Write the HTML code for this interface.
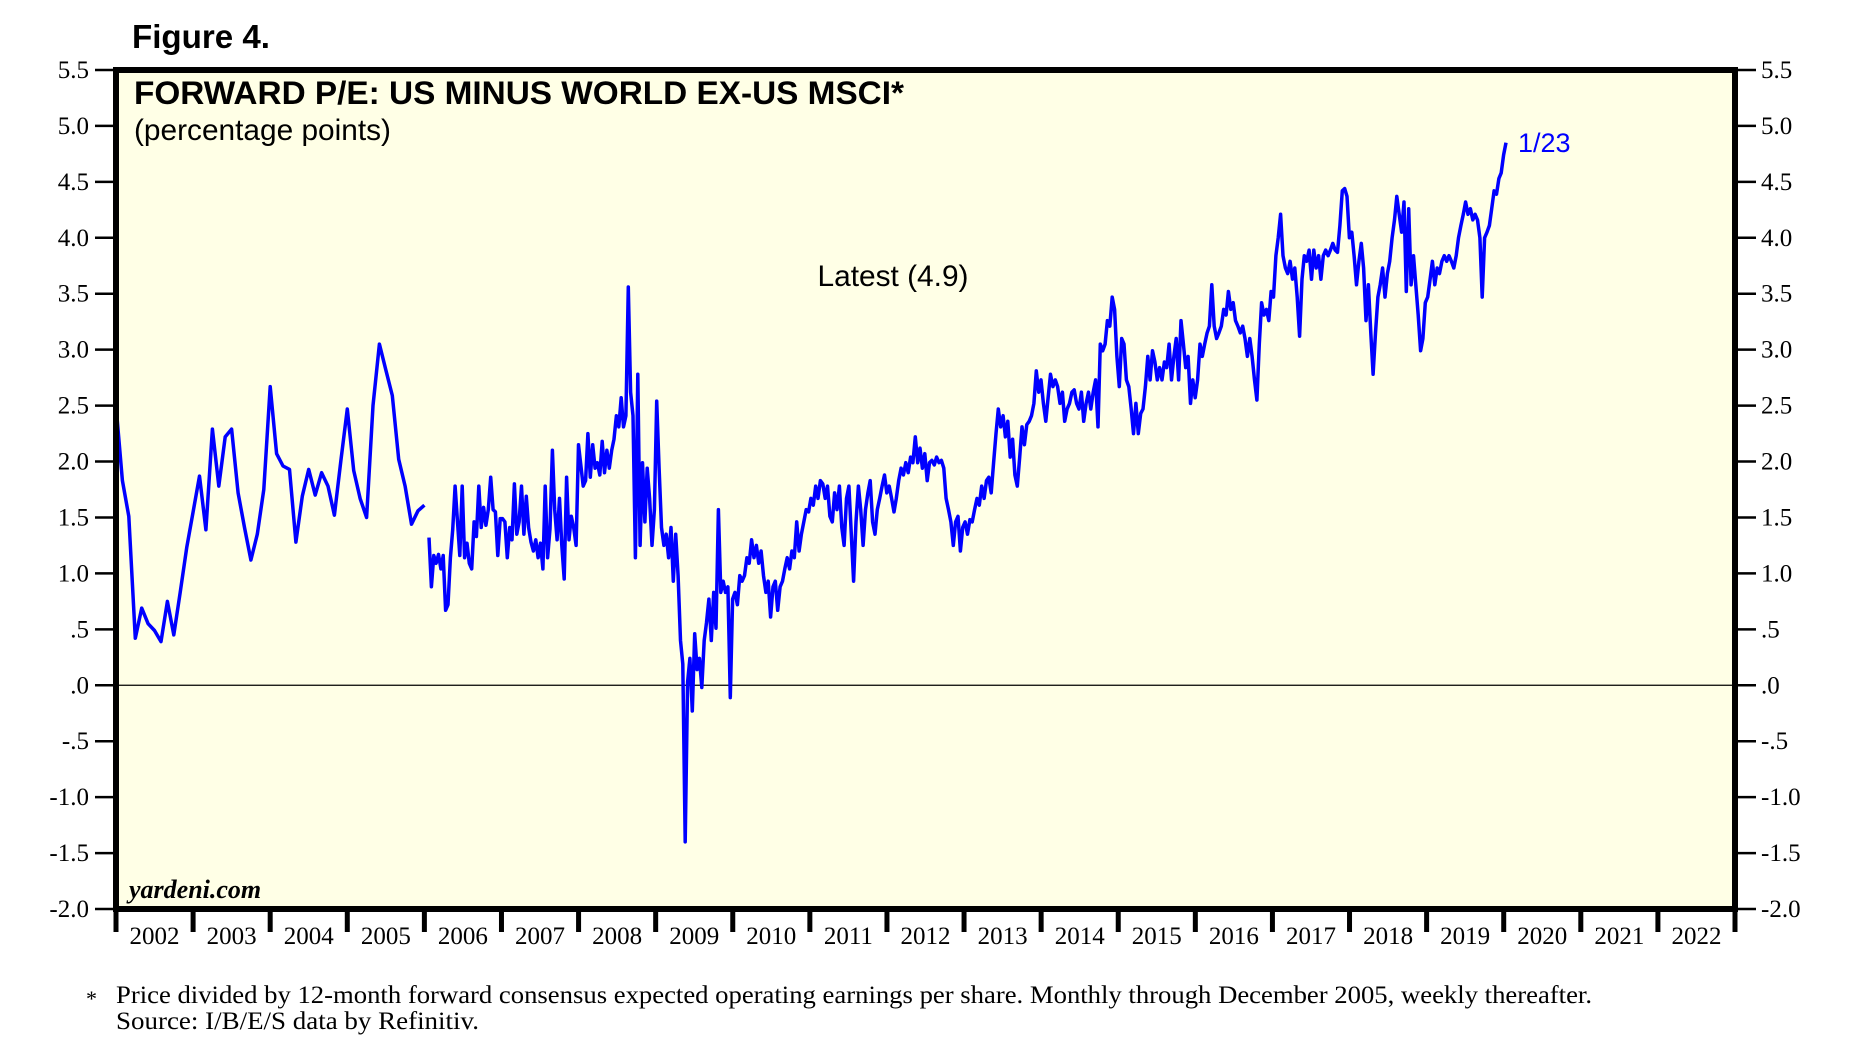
<!DOCTYPE html>
<html><head><meta charset="utf-8"><style>
html,body{margin:0;padding:0;background:#fff;}
svg{display:block;}
.tm{font-family:"Liberation Serif",serif;}
.ar{font-family:"Liberation Sans",sans-serif;}
</style></head><body>
<svg id="chart" width="1859" height="1058" viewBox="0 0 1859 1058" xmlns="http://www.w3.org/2000/svg">
<text x="132" y="48" class="ar" font-size="33" font-weight="bold" textLength="138" lengthAdjust="spacingAndGlyphs">Figure 4.</text>
<rect x="116" y="70" width="1619" height="839" fill="#ffffe6"/>
<g id="grid"></g>
<g id="series"></g>
<rect x="116" y="70" width="1619" height="839" fill="none" stroke="#000" stroke-width="6"/>
<g id="axes"></g>
<text x="134" y="104" class="ar" font-size="32" font-weight="bold" textLength="770" lengthAdjust="spacingAndGlyphs">FORWARD P/E: US MINUS WORLD EX-US MSCI*</text>
<text x="134" y="140" class="ar" font-size="30" textLength="257" lengthAdjust="spacingAndGlyphs">(percentage points)</text>
<text x="893" y="286" class="ar" font-size="30" text-anchor="middle" textLength="151" lengthAdjust="spacingAndGlyphs">Latest (4.9)</text>
<text x="1518" y="152" class="ar" font-size="27" fill="#0000ff">1/23</text>
<text x="129" y="898" class="tm" font-size="26" font-weight="bold" font-style="italic">yardeni.com</text>
<text x="86" y="1006" class="tm" font-size="22">*</text>
<text x="116" y="1003" class="tm" font-size="25" textLength="1476" lengthAdjust="spacingAndGlyphs">Price divided by 12-month forward consensus expected operating earnings per share. Monthly through December 2005, weekly thereafter.</text>
<text x="116" y="1029" class="tm" font-size="25" textLength="363" lengthAdjust="spacingAndGlyphs">Source: I/B/E/S data by Refinitiv.</text>
</svg>
<script>
const yearLabels=[2002,2003,2004,2005,2006,2007,2008,2009,2010,2011,2012,2013,2014,2015,2016,2017,2018,2019,2020,2021,2022];
const yTicks=[5.5,5.0,4.5,4.0,3.5,3.0,2.5,2.0,1.5,1.0,0.5,0.0,-0.5,-1.0,-1.5,-2.0];
const yTickLabels=["5.5","5.0","4.5","4.0","3.5","3.0","2.5","2.0","1.5","1.0",".5",".0","-.5","-1.0","-1.5","-2.0"];
const monthlyStart=2002.0;
const monthlyStep=1/12;
const monthlyVals=[2.5,1.83,1.51,0.42,0.69,0.55,0.49,0.39,0.75,0.45,0.83,1.23,1.55,1.87,1.39,2.29,1.78,2.22,2.29,1.72,1.41,1.12,1.35,1.75,2.67,2.07,1.96,1.93,1.28,1.69,1.93,1.70,1.90,1.78,1.52,2.01,2.47,1.92,1.67,1.50,2.50,3.05,2.82,2.59,2.02,1.78,1.44,1.56,1.61];
const weeklyStart=2006.06;
const weeklyStep=2/65;
const weeklyVals=[1.32,0.88,1.16,1.09,1.17,1.04,1.16,0.67,0.72,1.14,1.39,1.78,1.46,1.16,1.78,1.14,1.27,1.09,1.04,1.46,1.33,1.78,1.41,1.59,1.43,1.57,1.86,1.57,1.55,1.16,1.49,1.49,1.46,1.14,1.41,1.30,1.80,1.35,1.46,1.78,1.35,1.69,1.41,1.28,1.20,1.30,1.14,1.27,1.04,1.78,1.14,1.40,2.10,1.57,1.30,1.67,1.25,0.95,1.86,1.30,1.51,1.41,1.25,2.15,1.97,1.78,1.83,2.25,1.86,2.15,1.94,1.99,1.88,2.18,1.90,2.10,1.94,2.10,2.20,2.41,2.31,2.57,2.31,2.41,3.56,2.62,2.41,1.14,2.78,1.25,1.99,1.46,1.94,1.67,1.25,1.57,2.54,1.94,1.41,1.25,1.35,1.14,1.41,0.93,1.35,0.98,0.40,0.19,-1.40,0.03,0.24,-0.23,0.46,0.14,0.24,-0.02,0.40,0.56,0.77,0.40,0.83,0.51,1.57,0.83,0.93,0.83,0.88,-0.11,0.77,0.83,0.72,0.98,0.93,0.98,1.14,1.09,1.30,1.14,1.25,1.09,1.20,0.98,0.83,0.93,0.61,0.88,0.93,0.67,0.88,0.93,1.04,1.14,1.04,1.20,1.14,1.46,1.20,1.35,1.46,1.57,1.55,1.67,1.61,1.78,1.67,1.83,1.80,1.67,1.78,1.51,1.46,1.72,1.57,1.78,1.41,1.25,1.67,1.78,1.35,0.93,1.46,1.78,1.57,1.25,1.57,1.72,1.83,1.46,1.35,1.57,1.67,1.78,1.88,1.72,1.78,1.67,1.55,1.67,1.83,1.94,1.88,1.99,1.90,2.04,1.99,2.22,1.99,2.12,1.94,2.07,1.83,1.99,2.01,1.97,2.04,1.99,2.01,1.94,1.67,1.57,1.46,1.25,1.46,1.51,1.20,1.41,1.46,1.35,1.48,1.46,1.57,1.67,1.61,1.78,1.67,1.83,1.86,1.72,1.99,2.25,2.47,2.31,2.41,2.22,2.36,2.04,2.20,1.88,1.78,2.04,2.31,2.15,2.33,2.36,2.41,2.52,2.81,2.62,2.73,2.52,2.36,2.57,2.78,2.67,2.73,2.67,2.52,2.62,2.36,2.47,2.52,2.62,2.64,2.52,2.47,2.62,2.36,2.52,2.62,2.47,2.62,2.73,2.31,3.05,2.99,3.05,3.26,3.21,3.47,3.36,2.94,2.67,3.10,3.05,2.73,2.67,2.47,2.25,2.52,2.25,2.43,2.47,2.67,2.94,2.73,2.99,2.89,2.73,2.84,2.73,2.89,2.84,3.05,2.73,2.94,3.10,2.73,3.26,3.05,2.84,2.94,2.52,2.73,2.57,2.73,3.05,2.94,3.05,3.15,3.21,3.58,3.21,3.10,3.15,3.21,3.36,3.31,3.52,3.36,3.42,3.26,3.21,3.15,3.21,3.10,2.94,3.10,2.94,2.73,2.55,3.05,3.42,3.31,3.36,3.26,3.52,3.47,3.84,4.00,4.21,3.84,3.73,3.68,3.79,3.63,3.73,3.47,3.12,3.63,3.84,3.79,3.89,3.63,3.89,3.73,3.84,3.63,3.84,3.89,3.84,3.89,3.95,3.89,3.87,4.11,4.42,4.44,4.37,4.00,4.05,3.84,3.58,3.79,3.95,3.73,3.26,3.58,3.15,2.78,3.15,3.47,3.58,3.73,3.47,3.68,3.79,4.00,4.16,4.37,4.21,4.05,4.32,3.52,4.26,3.58,3.84,3.58,3.31,2.99,3.10,3.42,3.47,3.63,3.79,3.58,3.73,3.68,3.79,3.84,3.79,3.84,3.79,3.73,3.84,4.00,4.11,4.21,4.32,4.21,4.26,4.16,4.21,4.16,4.00,3.47,4.00,4.05,4.11,4.26,4.42,4.39,4.53,4.58,4.74,4.85];

const NS="http://www.w3.org/2000/svg";
const X0=116,X1=1735,Y0=70,Y1=909,YEAR0=2002,YEAR1=2023,VMAX=5.5,VMIN=-2.0;
function xs(t){return X0+(t-YEAR0)/(YEAR1-YEAR0)*(X1-X0);}
function ys(v){return Y0+(VMAX-v)/(VMAX-VMIN)*(Y1-Y0);}
function mk(tag,attrs,parent){const e=document.createElementNS(NS,tag);for(const k in attrs)e.setAttribute(k,attrs[k]);parent.appendChild(e);return e;}

const grid=document.getElementById('grid');
const zl=mk('line',{x1:X0,x2:X1,y1:ys(0),y2:ys(0),stroke:'#000','stroke-width':1.2},grid);



const axes=document.getElementById('axes');
yTicks.forEach((v,i)=>{
  const y=ys(v);
  const tl=mk('line',{x1:95,x2:X0,y1:y,y2:y,stroke:'#000','stroke-width':2.5},axes);
  
  
  const tr=mk('line',{x1:X1,x2:1756,y1:y,y2:y,stroke:'#000','stroke-width':2.5},axes);
  
  
  const a=mk('text',{x:89,y:y+8,'text-anchor':'end','font-size':25,class:'tm'},axes);
  a.textContent=yTickLabels[i];
  
  
  const b=mk('text',{x:1761,y:y+8,'font-size':25,class:'tm'},axes);
  b.textContent=yTickLabels[i];
  
  
});
for(let i=0;i<=yearLabels.length;i++){
  const x=xs(YEAR0+i);
  const t=mk('line',{x1:x,x2:x,y1:Y1,y2:932,stroke:'#000','stroke-width':5},axes);
  
  
}
yearLabels.forEach(yr=>{
  const t=mk('text',{x:xs(yr+0.5),y:944,'text-anchor':'middle','font-size':25,class:'tm'},axes);
  t.textContent=String(yr);
  
  
});

const series=document.getElementById('series');
const mPts=monthlyVals.map((v,i)=>xs(monthlyStart+i*monthlyStep).toFixed(1)+','+ys(v).toFixed(1)).join(' ');
const m=mk('polyline',{points:mPts,fill:'none',stroke:'#0000ff','stroke-width':3.5,'stroke-linejoin':'round'},series);


const wPts=weeklyVals.map((v,i)=>xs(weeklyStart+i*weeklyStep).toFixed(1)+','+ys(v).toFixed(1)).join(' ');
const w=mk('polyline',{points:wPts,fill:'none',stroke:'#0000ff','stroke-width':3.5,'stroke-linejoin':'round'},series);


</script>
</body></html>
